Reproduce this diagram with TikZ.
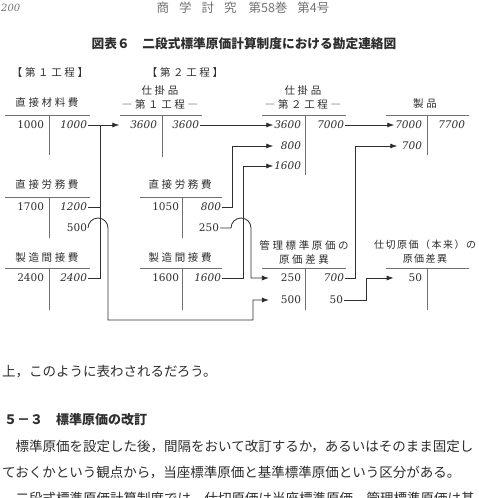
\documentclass[tikz,border=0pt]{standalone}
\usepackage{fontspec}
\newfontfamily\jp{Noto Sans CJK JP}
\newfontfamily\jpsp{Noto Sans CJK JP}[LetterSpace=25]
\newfontfamily\jpnarrow{Noto Sans CJK JP}[LetterSpace=15]
\newfontfamily\numf{DejaVu Serif}
\usetikzlibrary{arrows.meta}
\definecolor{ink}{HTML}{2E2E2E}
\definecolor{rulegray}{HTML}{707070}

\begin{document}
\begin{tikzpicture}[x=1pt,y=-1pt,
		ttl/.style={font=\jpsp\fontsize{10.5}{14}\selectfont,text=ink,inner sep=0pt,align=center},
		amt/.style={font=\numf\fontsize{10.5}{12}\selectfont,text=ink,anchor=east,inner sep=0.8pt},
		amti/.style={amt,font=\numf\itshape\fontsize{10.5}{12}\selectfont},
		tline/.style={draw=rulegray,line width=0.8pt},
		link/.style={draw=ink,line width=0.8pt},
		arr/.style={link,-{Latex[length=7pt,width=5pt]}},
		body/.style={font=\jp\fontsize{13.5}{13.5}\selectfont,text=ink,anchor=west,inner sep=0pt}]
	\fill[white] (0,0) rectangle (479,498);
	\useasboundingbox (0,0) rectangle (479,498);
	\path
	(100,125) coordinate (joinA)
	(253,320) coordinate (bot);
	
	\node[font=\numf\itshape\fontsize{10}{12}\selectfont,text=black!55,anchor=west,inner sep=0pt] (pg) at (1,8) {200};
	\node[font=\jp\fontsize{12.5}{12.5}\selectfont,text=black!55,inner sep=0pt] (run) at (243,8) {商\hspace{10pt}学\hspace{10pt}討\hspace{10pt}究\hspace{12pt}第58巻\hspace{10pt}第4号};
	\node[font=\jp\bfseries\fontsize{12.7}{12.7}\selectfont,text=ink,inner sep=0pt] (cap) at (244,44) {図表６　二段式標準原価計算制度における勘定連絡図};
	
	\foreach \l/\r/\m/\t/\b in {5/90/49/115/155, 120/202/162/115/157, 262/346/305/115/175, 386/469/427/115/155,
		5/90/49/197/238, 5/90/49/268/310, 140/222/182/197/238, 140/222/182/268/310,
		262/346/305/268/310, 386/469/427/268/310}
	\draw[tline] (\l,\t) -- (\r,\t) (\m,\t) -- (\m,\b);
	
	\node[ttl] (stage1) at (50,73) {【第１工程】};
	\node[ttl] (stage2) at (185,73) {【第２工程】};
	\node[ttl] (matl) at (47,103) {直接材料費};
	\node[ttl] (wip1) at (160,98) {仕掛品\\―第１工程―};
	\node[ttl] (wip2) at (303,98) {仕掛品\\―第２工程―};
	\node[ttl] (prod) at (425,104) {製品};
	\node[ttl] (labA) at (47,185) {直接労務費};
	\node[ttl] (ovhA) at (47,258) {製造間接費};
	\node[ttl] (labB) at (180,185) {直接労務費};
	\node[ttl] (ovhB) at (180,258) {製造間接費};
	\node[ttl] (varM) at (304,252) {管理標準原価の\\原価差異};
	\node[ttl,font=\jpnarrow\fontsize{10}{14}\selectfont] (varP) at (425,252) {仕切原価（本来）の\\原価差異};
	
	\node[amt] (a1) at (45,125) {1000};
	\node[amti] (a2) at (88,125) {1000};
	\node[amti] (b1) at (158,125) {3600};
	\node[amti] (b2) at (200,125) {3600};
	\node[amti] (c1) at (302,125) {3600};
	\node[amti] (c2) at (302,146) {800};
	\node[amti] (c3) at (302,166) {1600};
	\node[amti] (c4) at (345,125) {7000};
	\node[amti] (d1) at (423,125) {7000};
	\node[amti] (d2) at (466,125) {7700};
	\node[amti] (d3) at (423,146) {700};
	\node[amt] (g1) at (45,207) {1700};
	\node[amti] (g2) at (88,207) {1200};
	\node[amt] (g3) at (88,228) {500};
	\node[amt] (h1) at (45,278) {2400};
	\node[amti] (h2) at (88,278) {2400};
	\node[amt] (i1) at (180,207) {1050};
	\node[amti] (i2) at (222,207) {800};
	\node[amt] (i3) at (220,228) {250};
	\node[amt] (j1) at (180,278) {1600};
	\node[amti] (j2) at (222,278) {1600};
	\node[amt] (e1) at (302,278) {250};
	\node[amt] (e2) at (302,300) {500};
	\node[amti] (e3) at (345,278) {700};
	\node[amt] (e4) at (344,300) {50};
	\node[amt] (f1) at (423,278) {50};
	
	\draw[arr] (a2.east) -- ([xshift=-10pt]b1.west);
	\draw[link] (g2.east) -| (joinA);
	\draw[link] (h2.east) -| (joinA);
	\draw[arr] (g3.east) arc[start angle=180,end angle=0,radius=10pt] |- (bot) |- ([xshift=-11pt]e2.west);
	\draw[arr] (b2.east) -- (c1.west);
	\draw[arr] (i2.east) -- ++(10,0) |- (c1.west |- c2.west);
	\draw[arr] (j2.east) -- ++(21,0) |- (c1.west |- c3.west);
	\draw[arr] (i3.east) -- ++(11,0) arc[start angle=180,end angle=0,radius=10pt] |- ([xshift=-11pt]e1.west);
	\draw[arr] (c4.east) -- (d1.west);
	\draw[arr] (e3.east) -- ++(10,0) |- ([xshift=3pt]d1.west |- d3.west);
	\draw[arr] (e4.east) -- ++(22,0) |- ([xshift=-14pt]f1.west);
	
	\node[body] (txt1) at (2,372) {上，このように表わされるだろう。};
	\node[body,font=\jp\bfseries\fontsize{13}{13}\selectfont] (sec) at (4,420) {５－３　標準原価の改訂};
	\node[body] (txt2) at (2,447) {　標準原価を設定した後，間隔をおいて改訂するか，あるいはそのまま固定し};
	\node[body] (txt3) at (2,473) {ておくかという観点から，当座標準原価と基準標準原価という区分がある。};
	\node[body] (txt4) at (2,499) {　二段式標準原価計算制度では，仕切原価は当座標準原価，管理標準原価は基};
\end{tikzpicture}
\end{document}
